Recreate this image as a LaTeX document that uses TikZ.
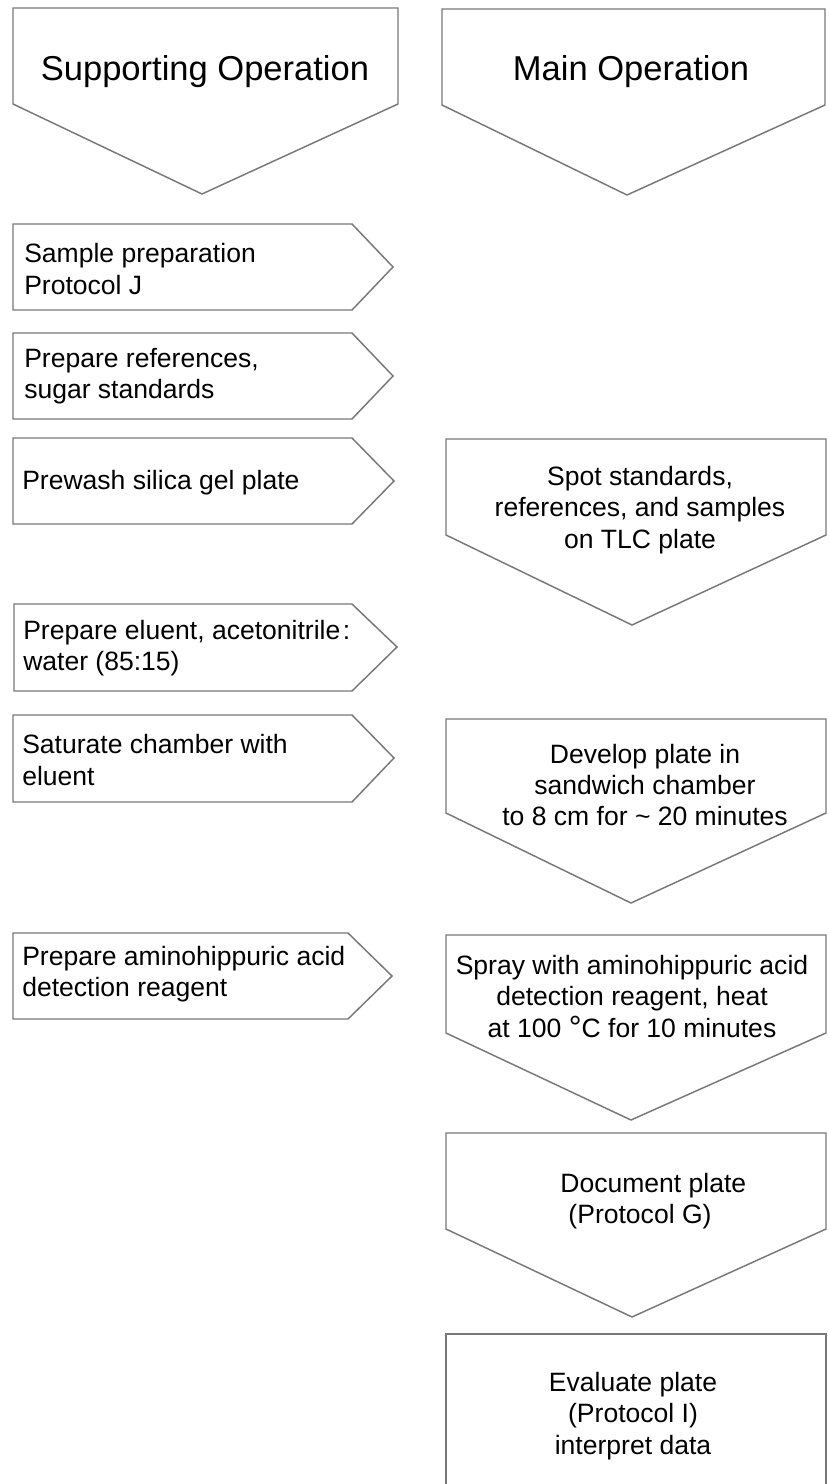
\documentclass[tikz,border=0pt]{standalone}
\usepackage{fontspec}
\setmainfont{Liberation Sans}
\begin{document}
\begin{tikzpicture}[x=0.75pt,y=-0.75pt,
  shapeline/.style={draw={rgb,255:red,120;green,120;blue,120},line width=1.1pt,line join=miter},
  headtext/.style={inner sep=0pt,font=\fontsize{25.9}{31}\selectfont},
  lefttext/.style={inner sep=0pt,anchor=west,align=left,font=\fontsize{19.9}{23.6}\selectfont},
  righttext/.style={inner sep=0pt,align=center,font=\fontsize{19.9}{23.6}\selectfont}]
\useasboundingbox (0,0) rectangle (828,1484);
\fill[white] (0,0) rectangle (828,1484);
% headers
\draw[shapeline] (13,8) -- (398,8) -- (398,104) -- (202,194) -- (13,104) -- cycle;
\draw[shapeline] (442,9) -- (825,9) -- (825,105) -- (627,195) -- (442,105) -- cycle;
\node[headtext] (hsup) at (205,72) {Supporting Operation};
\node[headtext] (hmain) at (631,72) {Main Operation};
% supporting steps
\draw[shapeline] (13,224) -- (352,224) -- (393,267) -- (352,310) -- (13,310) -- cycle;
\draw[shapeline] (13,333) -- (352,333) -- (393,376) -- (352,419) -- (13,419) -- cycle;
\draw[shapeline] (13,438) -- (352,438) -- (394,481) -- (352,524) -- (13,524) -- cycle;
\draw[shapeline] (14,604) -- (352,604) -- (397,647) -- (352,691) -- (14,691) -- cycle;
\draw[shapeline] (13,715) -- (352,715) -- (394,758) -- (352,802) -- (13,802) -- cycle;
\draw[shapeline] (13,933) -- (348,933) -- (392,976) -- (348,1019) -- (13,1019) -- cycle;
\node[lefttext] (s1) at (24,269) {Sample preparation\\Protocol J};
\node[lefttext] (s2) at (24,376) {Prepare references,\\sugar standards};
\node[lefttext] (s3) at (22,483) {Prewash silica gel plate};
\node[lefttext] (s4) at (23,648) {Prepare eluent, acetonitrile\kern2pt:\\water (85:15)};
\node[lefttext] (s5) at (22,760) {Saturate chamber with\\eluent};
\node[lefttext] (s6) at (22,974) {Prepare aminohippuric acid\\detection reagent};
% main steps
\draw[shapeline] (446,439) -- (826,439) -- (826,535) -- (632,625) -- (446,535) -- cycle;
\draw[shapeline] (446,719) -- (826,719) -- (826,813) -- (631,903) -- (446,813) -- cycle;
\draw[shapeline] (446,935) -- (826,935) -- (826,1033) -- (631,1120) -- (446,1033) -- cycle;
\draw[shapeline] (446,1133) -- (826,1133) -- (826,1229) -- (632,1317) -- (446,1229) -- cycle;
\draw[shapeline] (446,1490) -- (446,1334) -- (826,1334) -- (826,1490);
\node[righttext] (m1) at (640,510) {Spot standards,\\references, and samples\\on TLC plate};
\node[righttext] (m2) at (645,785) {Develop plate in\\sandwich chamber\\to 8 cm for \textasciitilde{} 20 minutes};
\node[righttext] (m3) at (632,997) {Spray with aminohippuric acid\\detection reagent, heat\\at 100 {\fontsize{24}{24}\selectfont\raisebox{-1pt}{°}}C for 10 minutes};
\node[righttext] (m4) at (640,1201) {\hspace*{20pt}Document plate\\(Protocol G)};
\node[righttext] (m5) at (633,1416) {Evaluate plate\\(Protocol I)\\interpret data};
\end{tikzpicture}
\end{document}
